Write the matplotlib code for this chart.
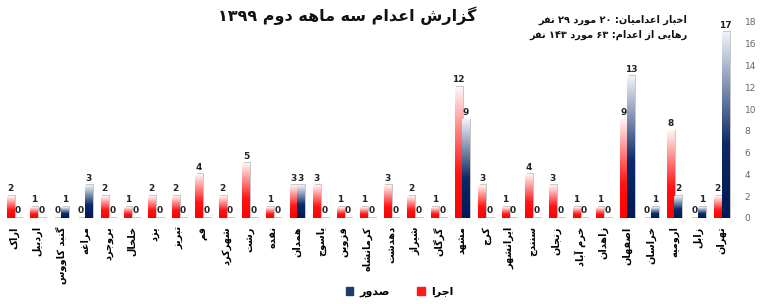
import numpy as np
import matplotlib
matplotlib.use("Agg")
import matplotlib.pyplot as plt
from matplotlib.colors import LinearSegmentedColormap
from matplotlib.patches import Rectangle

# ---------------------------------------------------------------------------
# Data (left to right as drawn)
# ---------------------------------------------------------------------------
cities = [
    "اراک", "اردبیل", "گنبد کاووس", "مراغه", "بروجرد", "خلخال", "یزد", "تبریز",
    "قم", "شهرکرد", "رشت", "نقده", "همدان", "یاسوج", "قزوین", "کرمانشاه",
    "دهدشت", "شیراز", "گرگان", "مشهد", "کرج", "ایرانشهر", "سنندج", "زنجان",
    "خرم آباد", "زاهدان", "اصفهان", "خراسان", "ارومیه", "زابل", "تهران",
]
executed = [2, 1, 0, 0, 2, 1, 2, 2, 4, 2, 5, 1, 3, 3, 1, 1,
            3, 2, 1, 12, 3, 1, 4, 3, 1, 1, 9, 0, 8, 0, 2]
sentenced = [0, 0, 1, 3, 0, 0, 0, 0, 0, 0, 0, 0, 3, 0, 0, 0,
             0, 0, 0, 9, 0, 0, 0, 0, 0, 0, 13, 1, 2, 1, 17]
y_ticks = [0, 2, 4, 6, 8, 10, 12, 14, 16, 18]

title = "گزارش اعدام سه ماهه دوم ۱۳۹۹"
note1 = "اخبار اعدامیان: ۲۰ مورد ۲۹ نفر"
note2 = "رهایی از اعدام: ۶۳ مورد ۱۴۳ نفر"
label_exec = "اجرا"
label_sent = "صدور"

# ---------------------------------------------------------------------------
# tiny Persian shaper (matplotlib has no bidi / joining)
# ---------------------------------------------------------------------------
FOUR = {"ب": 0xFE8F, "ت": 0xFE95, "ث": 0xFE99, "ج": 0xFE9D, "ح": 0xFEA1,
        "خ": 0xFEA5, "س": 0xFEB1, "ش": 0xFEB5, "ص": 0xFEB9, "ض": 0xFEBD,
        "ط": 0xFEC1, "ظ": 0xFEC5, "ع": 0xFEC9, "غ": 0xFECD, "ف": 0xFED1,
        "ق": 0xFED5, "ل": 0xFEDD, "م": 0xFEE1, "ن": 0xFEE5, "ه": 0xFEE9,
        "ئ": 0xFE89, "پ": 0xFB56, "چ": 0xFB7A, "ک": 0xFB8E, "گ": 0xFB92,
        "ی": 0xFBFC}
TWO = {"ا": 0xFE8D, "آ": 0xFE81, "د": 0xFEA9, "ذ": 0xFEAB, "ر": 0xFEAD,
       "ز": 0xFEAF, "ژ": 0xFB8A, "و": 0xFEED}


def shape_word(w):
    out = []
    for i, ch in enumerate(w):
        prev_j = i > 0 and w[i - 1] in FOUR
        next_j = i + 1 < len(w) and (w[i + 1] in FOUR or w[i + 1] in TWO)
        if ch in FOUR:
            b = FOUR[ch]
            if prev_j and next_j:
                out.append(chr(b + 3))
            elif prev_j:
                out.append(chr(b + 1))
            elif next_j:
                out.append(chr(b + 2))
            else:
                out.append(chr(b))
        elif ch in TWO:
            out.append(chr(TWO[ch] + (1 if prev_j else 0)))
        else:
            out.append(ch)
    return "".join(out)


def fa(s):
    tokens = []
    for w in s.split(" "):
        if any(c in FOUR or c in TWO for c in w):
            tokens.append(shape_word(w)[::-1])
        else:
            tokens.append(w)
    return " ".join(tokens[::-1])


# ---------------------------------------------------------------------------
plt.rcParams["font.family"] = ["DejaVu Sans"]

red_cmap = LinearSegmentedColormap.from_list(
    "r", [(0, "#FF0000"), (0.35, "#FF1414"), (1.0, "#FFF4F4")])
blue_cmap = LinearSegmentedColormap.from_list(
    "b", [(0, "#001A55"), (0.4, "#0B2A68"), (1.0, "#EEF1F7")])
grad = np.linspace(0, 1, 64).reshape(-1, 1)

fig = plt.figure(figsize=(7.68, 3.04), dpi=100)
ax = fig.add_axes([0.003, 0.283, 0.952, 0.645])

x = np.arange(len(cities))
bw = 0.32


def draw_bar(xc, h, cmap):
    x0, x1 = xc - bw / 2, xc + bw / 2
    # soft grey shadow right / top, like the 3D-ish Excel style
    ax.add_patch(Rectangle((x0 + 0.06, 0), bw, h + 0.12, color="#C8C8C8",
                           zorder=1, lw=0))
    if h > 0:
        ax.imshow(grad, extent=(x0, x1, 0, h), origin="lower", cmap=cmap,
                  aspect="auto", zorder=2, interpolation="bilinear")


for xi, e, s in zip(x, executed, sentenced):
    draw_bar(xi - bw / 2, e, red_cmap)
    draw_bar(xi + bw / 2, s, blue_cmap)
    ax.annotate(str(e), (xi - bw / 2, e), xytext=(0, 2), textcoords="offset points",
                ha="center", va="bottom", fontsize=6.5, fontweight="bold", color="#222222")
    ax.annotate(str(s), (xi + bw / 2, s), xytext=(0, 2), textcoords="offset points",
                ha="center", va="bottom", fontsize=6.5, fontweight="bold", color="#222222")

ax.set_xlim(-0.5, len(cities) - 0.5)
ax.set_ylim(0, 18)
ax.yaxis.tick_right()
ax.set_yticks(y_ticks)
ax.tick_params(axis="y", length=0, labelsize=6.5, labelcolor="#666666", pad=8)
ax.set_xticks(x)
ax.set_xticklabels([fa(c) for c in cities], rotation=90, fontsize=7,
                   fontweight="bold", va="top", ha="center")
ax.tick_params(axis="x", length=0, pad=6)
for sp in ax.spines.values():
    sp.set_visible(False)

fig.text(0.452, 0.947, fa(title), ha="center", va="center", fontsize=11.5,
         fontweight="bold", color="#111111")
fig.text(0.895, 0.934, fa(note1), ha="right", va="center", fontsize=7,
         fontweight="bold", color="#111111")
fig.text(0.895, 0.885, fa(note2), ha="right", va="center", fontsize=7,
         fontweight="bold", color="#111111")

h_sent = Rectangle((0, 0), 1, 1, color="#1F3A6E")
h_exec = Rectangle((0, 0), 1, 1, color="#FF1A1A")
fig.legend([h_sent, h_exec], [fa(label_sent), fa(label_exec)], ncol=2,
           loc="center", bbox_to_anchor=(0.52, 0.04), frameon=False,
           handlelength=0.7, handleheight=0.7, columnspacing=2.5,
           handletextpad=0.5, prop={"weight": "bold", "size": 8})

fig.savefig("out.png", dpi=100)
